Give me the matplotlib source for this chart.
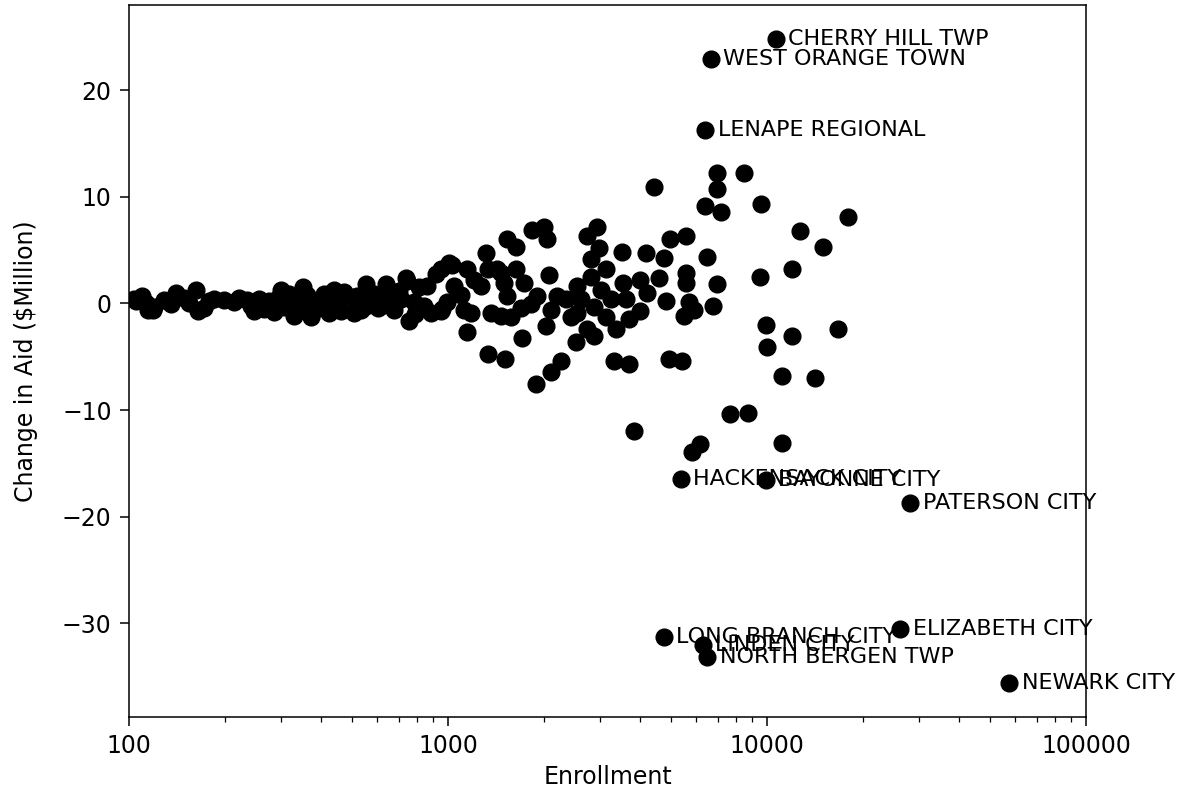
import matplotlib
matplotlib.use("Agg")
import matplotlib.pyplot as plt

# unlabeled districts: enrollment, change in aid ($M)
enrollment = [
    104, 105, 110, 113, 115, 119, 120, 129, 135, 140, 149, 154, 162, 164, 172,
    178, 185, 198, 213, 221, 234, 241, 247, 255, 265, 274, 284, 295, 299, 306,
    317, 329, 329, 341, 350, 361, 372, 379, 393, 408, 423, 429, 439, 440, 455,
    461, 471, 496, 508, 518, 532, 552, 552, 585, 601, 615, 638, 652, 676, 700,
    711, 737, 746, 755, 781, 790, 810, 840, 862, 883, 920, 949, 949, 960, 995,
    1005, 1032, 1044, 1096, 1122, 1150, 1150, 1178, 1206, 1266, 1313, 1330, 1330,
    1360, 1428, 1463, 1463, 1498, 1505, 1527, 1535, 1572, 1630, 1630, 1690, 1710,
    1730, 1815, 1838, 1880, 1905, 2000, 2023, 2050, 2072, 2100, 2100, 2200, 2255,
    2337, 2423, 2510, 2543, 2543, 2604, 2730, 2730, 2800, 2800, 2870, 2870, 2940,
    2970, 3006, 3120, 3120, 3233, 3310, 3350, 3520, 3540, 3603, 3690, 3690, 3820,
    4010, 4010, 4160, 4210, 4420, 4600, 4750, 4810, 4920, 4980, 5420, 5510, 5590,
    5590, 5590, 5690, 5830, 5900, 6150, 6410, 6490, 6780, 6980, 6980, 6980, 7180,
    7680, 8450, 8700, 9470, 9580, 9890, 10010, 11170, 11170, 11980, 12010, 12650,
    14150, 14940, 16700, 17900,
]
aid_change = [
    0.4, 0.2, 0.7, 0.0, -0.6, -0.6, -0.3, 0.3, -0.1, 1.0, 0.5, 0.0, 1.3, -0.7, -0.4,
    0.2, 0.4, 0.3, 0.1, 0.5, 0.3, -0.2, -0.7, 0.4, -0.5, 0.2, -0.8, 0.6, 1.3, -0.3,
    0.9, 0.2, -1.2, -0.6, 1.5, 0.8, -1.3, 0.1, -0.4, 0.9, -0.9, 1.0, -0.1, 1.3, 0.3,
    -0.7, 1.1, 0.6, -0.9, 0.7, -0.6, 1.8, -0.25, 0.9, -0.4, -0.25, 1.8, 0.8, -0.6, 1.2,
    0.4, 2.4, 2.1, -1.65, 0.1, -1.0, 1.5, -0.2, 1.6, -0.9, 2.8, 3.2, -0.7, -0.5, 0.1,
    3.8, 3.6, 1.6, 0.8, -0.6, 3.2, -2.7, -0.9, 2.2, 1.6, 4.7, 3.2, -4.7,
    -0.9, 3.2, 2.9, -1.2, 1.9, -5.2, 6.0, 0.7, -1.3, 5.3, 3.2, -0.4, -3.2,
    1.9, -0.1, 6.9, -7.6, 0.7, 7.2, -2.1, 6.0, 2.7, -0.6, -6.4, 0.7, -5.4,
    0.4, -1.3, -3.6, 1.6, -0.9, 0.4, 6.3, -2.4, 4.2, 2.5, -3.1, -0.3, 7.2,
    5.2, 1.3, 3.2, -1.3, 0.4, -5.4, -2.4, 4.8, 1.9, 0.4, -1.5, -5.7, -12.0,
    2.2, -0.7, 4.7, 1.0, 10.9, 2.4, 4.3, 0.2, -5.2, 6.0, -5.4, -1.2, 6.3,
    2.9, 1.9, 0.1, -13.9, -0.6, -13.2, 9.1, 4.4, -0.2, 12.2, 10.7, 1.8, 8.6,
    -10.4, 12.2, -10.3, 2.5, 9.3, -2.0, -4.1, -6.8, -13.1, -3.1, 3.2, 6.8,
    -7.0, 5.3, -2.4, 8.1,
]

# labeled districts
names = [
    "CHERRY HILL TWP", "WEST ORANGE TOWN", "LENAPE REGIONAL", "HACKENSACK CITY",
    "BAYONNE CITY", "PATERSON CITY", "ELIZABETH CITY", "LONG BRANCH CITY",
    "LINDEN CITY", "NORTH BERGEN TWP", "NEWARK CITY",
]
name_enrollment = [10630, 6650, 6410, 5355, 9890, 28120, 26180, 4740, 6280, 6500, 57400]
name_aid_change = [24.8, 22.9, 16.3, -16.5, -16.6, -18.75, -30.5, -31.3, -32.0, -33.2, -35.6]

fig = plt.figure(figsize=(11.85, 8.02), dpi=100)
ax = fig.add_axes([0.1089, 0.106, 0.8076, 0.8878])

ax.scatter(enrollment + name_enrollment, aid_change + name_aid_change, s=145, color="black")
for name, x, y in zip(names, name_enrollment, name_aid_change):
    ax.annotate(name, (x, y), xytext=(9, 0), textcoords="offset points",
                va="center", ha="left", fontsize=16)

ax.set_xscale("log")
ax.set_xlim(100, 100000)
ax.set_ylim(-38.8, 28.0)
ax.set_xticks([100, 1000, 10000, 100000])
ax.set_xticklabels(["100", "1000", "10000", "100000"])
ax.tick_params(which="major", labelsize=17, length=6.5, width=1.1, pad=6)
ax.tick_params(which="minor", length=3.8, width=0.9)
for s in ax.spines.values():
    s.set_linewidth(1.1)
ax.set_xlabel("Enrollment", fontsize=17, labelpad=5)
ax.set_ylabel("Change in Aid ($Million)", fontsize=17, labelpad=17)

fig.savefig("out.png", dpi=100)
